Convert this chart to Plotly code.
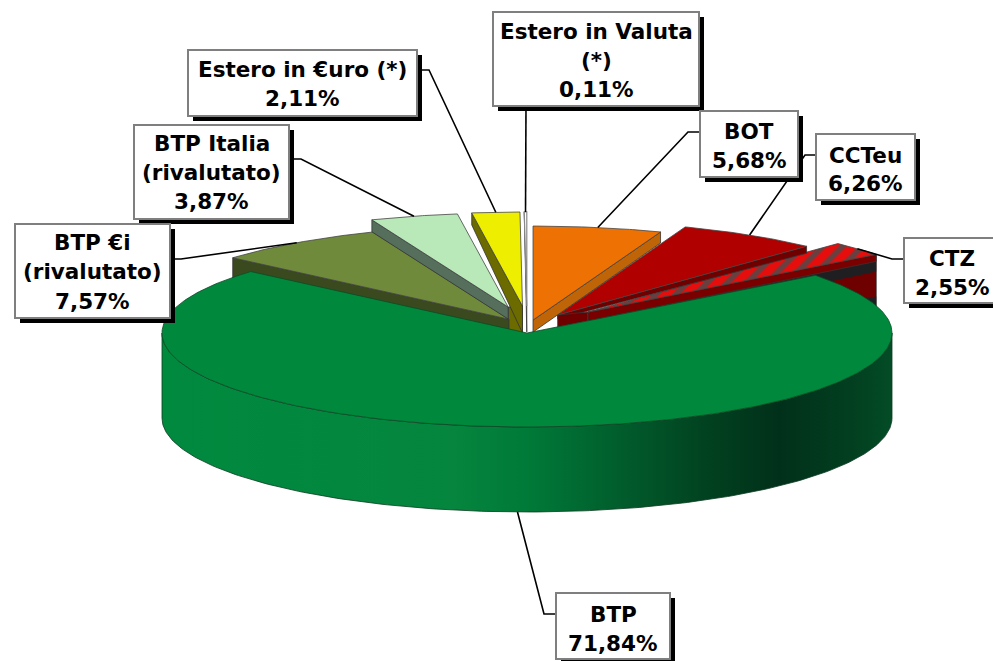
import math
import plotly.graph_objects as go

# ---- data (clockwise from 12 o'clock) ----
names = ["BOT", "CCTeu", "CTZ", "BTP", "BTP €i<br>(rivalutato)",
         "BTP Italia<br>(rivalutato)", "Estero in €uro (*)", "Estero in Valuta<br>(*)"]
values = [5.68, 6.26, 2.55, 71.84, 7.57, 3.87, 2.11, 0.11]

# ---- styling ----
top_colors = ["#ee7203", "#b00000", "#e60d0d", "#00883c", "#6f8a3b", "#b9e9b9", "#eeee00", "#ffffff"]
side_colors = ["#c06408", "#700000", "#7a0000", "#00883c", "#3a4a1e", "#566f5c", "#6b6b00", "#cfcfcf"]
pull_x = [0.093, 0.16, 0.226, 0, 0.085, 0.2, 0.169, 0.17]
pull_y = [0.14, 0.225, 0.33, 0, 0.18, 0.286, 0.288, 0.288]
wall_tip = [12, 4, 9, 0, 12, 12, 27, 26]
wall_rim = [11, 7, 7, 0, 25, 12, 12, 26]
paint_order = [2, 1, 0, 6, 4, 5, 7]
CX, CY, RX, RY, DEPTH = 527, 333, 365, 94, 85

total = sum(values)
cum = [0]
for v in values:
    cum.append(cum[-1] + v)
start = [c / total * 2 * math.pi for c in cum[:-1]]
end = [c / total * 2 * math.pi for c in cum[1:]]
mid = [(a + b) / 2 for a, b in zip(start, end)]


def centre(i):
    return (CX + pull_x[i] * RX * math.sin(mid[i]), CY - pull_y[i] * RY * math.cos(mid[i]))


def rim(i, a, dy=0):
    c = centre(i)
    return (c[0] + RX * math.sin(a), c[1] - RY * math.cos(a) + dy)


def poly(pts, fill, line="#333333", width=0.8, **kw):
    xs = [p[0] for p in pts] + [pts[0][0]]
    ys = [p[1] for p in pts] + [pts[0][1]]
    fig.add_trace(go.Scatter(x=xs, y=ys, mode="lines", fill="toself", fillcolor=fill,
                             line=dict(color=line, width=width), hoverinfo="skip",
                             showlegend=False, **kw))


fig = go.Figure()


def radial_wall(i, h_tip, h_rim, fill, top_tip=0, top_rim=0, line="#333333"):
    a = end[i] if mid[i] < math.pi else start[i]
    c = centre(i)
    poly([(c[0], c[1] + top_tip), rim(i, a, top_rim), rim(i, a, h_rim), (c[0], c[1] + h_tip)], fill, line=line)


for i in paint_order:
    c = centre(i)
    if values[i] == 2.55:  # tall dark wall behind the main slice
        radial_wall(i, 70, 62, "#6e0000", line="#222222")
        radial_wall(i, 62, 62, "#1f1f22", 44, 42, line="rgba(0,0,0,0)")
        radial_wall(i, 22, 17, "#1f1f22", 9, 7, line="rgba(0,0,0,0)")
    if values[i] == 2.11:  # inner block of the slice near the tip
        poly([c, (c[0], c[1] + wall_tip[i]), (c[0] - 14, c[1] + wall_tip[i] - 2), (c[0] - 14, c[1] + 1)], side_colors[i])
    radial_wall(i, wall_tip[i], wall_rim[i], side_colors[i])
    if values[i] == 6.26:  # inner block of the slice near the tip
        poly([c, (c[0], c[1] + 12), (c[0] + 30, c[1] + 6), (c[0] + 30, c[1] - 3)], side_colors[i])
    n = 40
    arc = [rim(i, start[i] + (end[i] - start[i]) * k / n) for k in range(n + 1)]
    kw = {}
    if values[i] == 2.55:
        kw["fillpattern"] = dict(shape="/", bgcolor="#e60d0d", fgcolor="#6a3f3f", fgopacity=1, size=14, solidity=0.4)
    line = "#888888" if i == 7 else "#444444"
    poly([c] + arc, top_colors[i], line=line, width=1.2 if i == 7 else 0.8, **kw)

# main slice: outer wall with shading, then top face
B = 3
n = 200
front = [math.pi / 2 + math.pi * k / n for k in range(n + 1)]
wall_pts = [rim(B, a) for a in front] + [rim(B, a, DEPTH) for a in reversed(front)]
poly(wall_pts, "#00883c", line="#0c3a20", width=0.8,
     fillgradient=dict(type="horizontal", colorscale=[
         [0, "#008a3e"], [0.4, "#05853e"], [0.5, "#007a38"], [0.64, "#015a2b"], [0.745, "#014220"],
         [0.845, "#01301a"], [0.945, "#023f20"], [1, "#034c26"]]))
arc = [rim(B, start[B] + (end[B] - start[B]) * k / 300) for k in range(301)]
poly([centre(B)] + arc, top_colors[B], line="#0c4a26", width=0.8)

leaders = {
    0: [(700, 132), (688, 132)],
    1: [(816, 155), (805, 155)],
    2: [(904, 259), (892, 259)],
    3: [(556, 614), (544, 614)],
    4: [(170, 259), (181, 259)],
    5: [(289, 159), (301, 159)],
    6: [(417, 70), (429, 70)],
    7: [(526, 106)],
}
for i, pts in leaders.items():
    dy = DEPTH if i == B else 0
    p = pts + [rim(i, mid[i], dy)]
    fig.add_trace(go.Scatter(x=[q[0] for q in p], y=[q[1] for q in p], mode="lines",
                             line=dict(color="#000000", width=1.6), hoverinfo="skip", showlegend=False))

# ---- label boxes ----
boxes = {
    7: (493, 12, 699, 106, [31, 60, 89]),
    6: (188, 50, 417, 116, [69, 98]),
    5: (134, 125, 289, 219, [143, 172, 201]),
    4: (15, 224, 170, 318, [242, 271, 301]),
    0: (700, 111, 798, 177, [131, 160]),
    1: (816, 134, 915, 200, [155, 183]),
    2: (904, 238, 1003, 303, [258, 287]),
    3: (556, 593, 670, 659, [614, 643]),
}
shapes = []
annots = []
for i, (x0, y0, x1, y1, ys) in boxes.items():
    shapes.append(dict(type="rect", xref="x", yref="y", x0=x0 + 5, y0=y0 + 5, x1=x1 + 5, y1=y1 + 5,
                       fillcolor="#000000", line=dict(width=0), layer="above"))
    shapes.append(dict(type="rect", xref="x", yref="y", x0=x0, y0=y0, x1=x1, y1=y1,
                       fillcolor="#ffffff", line=dict(color="#7f7f7f", width=2), layer="above"))
    lines = names[i].split("<br>") + [f"{values[i]:.2f}".replace(".", ",") + "%"]
    for t, y in zip(lines, ys):
        annots.append(dict(x=(x0 + x1) / 2 if i != 2 else 952, y=y, xref="x", yref="y", text=f"<b>{t}</b>",
                           showarrow=False, xanchor="center", yanchor="middle",
                           font=dict(family="DejaVu Sans", size=21.5, color="#000000")))

fig.update_layout(
    width=993, height=661, margin=dict(l=0, r=0, t=0, b=0),
    paper_bgcolor="#ffffff", plot_bgcolor="#ffffff", showlegend=False,
    xaxis=dict(range=[0, 993], visible=False, fixedrange=True),
    yaxis=dict(range=[661, 0], visible=False, fixedrange=True),
    shapes=shapes, annotations=annots,
)
fig.write_html("out.html", config={"displayModeBar": False},
               post_script="document.body.style.margin='0';document.body.style.overflow='hidden';")
